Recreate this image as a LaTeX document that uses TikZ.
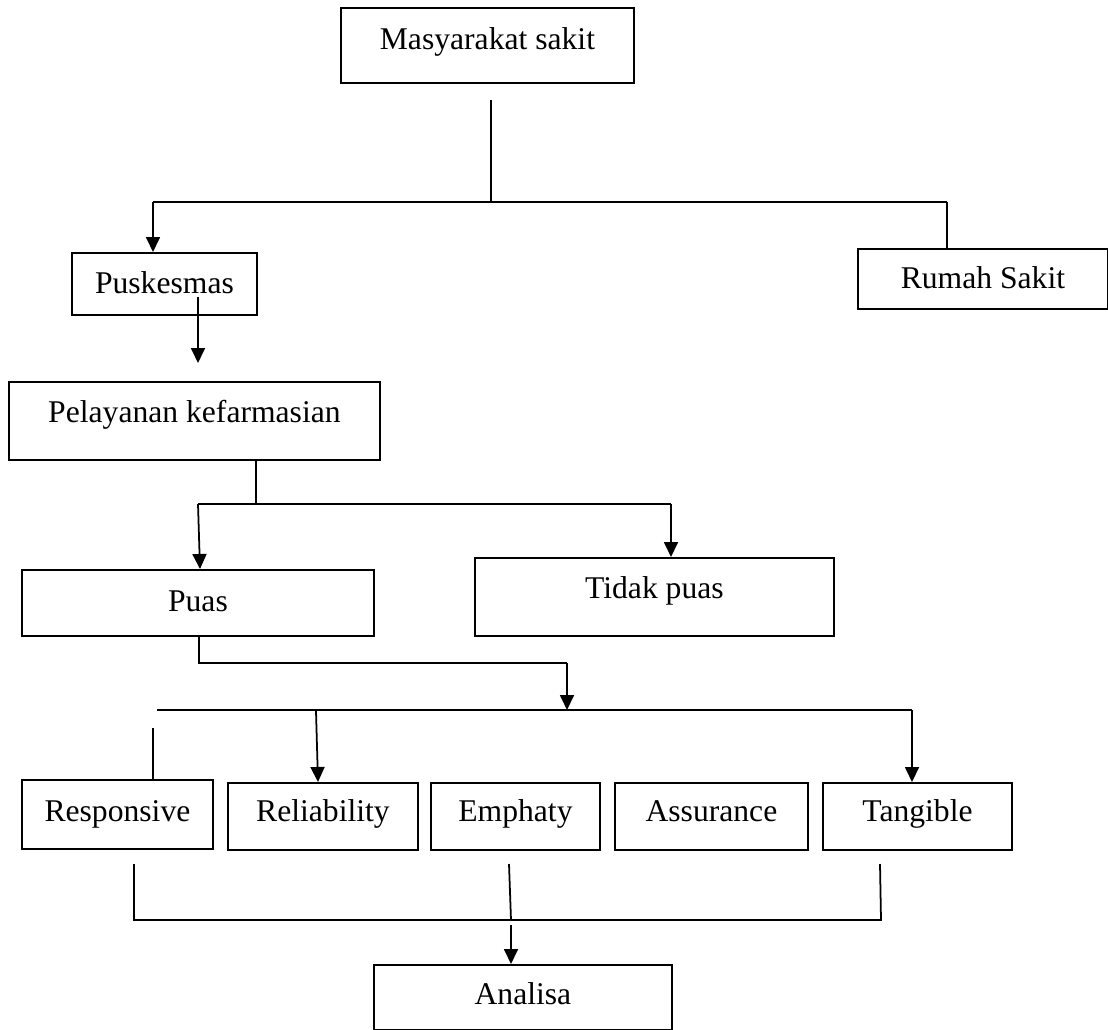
\documentclass[tikz,border=0pt]{standalone}
\usepackage{fontspec}
\setmainfont{Liberation Serif}
\usetikzlibrary{positioning, arrows.meta}
\tikzset{kotak/.style = {draw,line width=1.1pt,inner sep=0pt,anchor=north west,font=\fontsize{18}{22}\selectfont}}
\tikzset{garis/.style = {line width=1pt}}
\tikzset{panah/.style = {line width=1pt,-{Triangle[length=0.3cm,width=0.28cm]}}}

\begin{document}
\begin{tikzpicture}[x=0.02cm,y=-0.02cm]
    \useasboundingbox (0,0) rectangle (1108,1030);

    % kotak
    \node [kotak, minimum width=5.86cm, text height=0.83cm, text depth=0.67cm] (MS) at (340,7)   {Masyarakat sakit};
    \node [kotak, minimum width=3.70cm, text height=0.81cm, text depth=0.43cm] (PK) at (71,252)  {Puskesmas};
    \node [kotak, minimum width=5.00cm, text height=0.80cm, text depth=0.40cm] (RS) at (857,248) {Rumah Sakit};
    \node [kotak, minimum width=7.42cm, text height=0.81cm, text depth=0.75cm] (PL) at (8,381)   {Pelayanan kefarmasian};
    \node [kotak, minimum width=7.04cm, text height=0.84cm, text depth=0.48cm] (PU) at (21,569)  {Puas};
    \node [kotak, minimum width=7.18cm, text height=0.82cm, text depth=0.74cm] (TP) at (474,557) {Tidak puas};
    \node [kotak, minimum width=3.82cm, text height=0.84cm, text depth=0.54cm] (RP) at (21,779)  {Responsive};
    \node [kotak, minimum width=3.80cm, text height=0.78cm, text depth=0.56cm] (RL) at (227,782) {Reliability};
    \node [kotak, minimum width=3.38cm, text height=0.78cm, text depth=0.56cm] (EM) at (430,782) {Emphaty};
    \node [kotak, minimum width=3.86cm, text height=0.78cm, text depth=0.56cm] (AS) at (614,782) {Assurance};
    \node [kotak, minimum width=3.78cm, text height=0.78cm, text depth=0.56cm] (TG) at (822,782) {Tangible};
    \node [kotak, minimum width=5.96cm, text height=0.80cm, text depth=0.50cm] (AN) at (373,964) {Analisa};

    % titik sambung
    \coordinate (A1) at (491,100);
    \coordinate (A2) at (491,202);
    \coordinate (A3) at (153,202);
    \coordinate (A4) at (947,202);
    \coordinate (B1) at (198,297);
    \coordinate (B2) at (198,363);
    \coordinate (C1) at (256,504);
    \coordinate (C2) at (198,504);
    \coordinate (C3) at (671,504);
    \coordinate (D1) at (199,663);
    \coordinate (D2) at (567,663);
    \coordinate (D3) at (567,710);
    \coordinate (E1) at (157,710);
    \coordinate (E2) at (912,710);
    \coordinate (E3) at (153,728);
    \coordinate (E4) at (316,711);
    \coordinate (F1) at (134,864);
    \coordinate (F2) at (134,920);
    \coordinate (F3) at (509,864);
    \coordinate (F4) at (511,920);
    \coordinate (F5) at (880,864);
    \coordinate (F6) at (881,920);
    \coordinate (F7) at (511,925);

    % garis
    \draw [garis] (A1) -- (A2);
    \draw [garis] (A3) -- (A4);
    \draw [panah] (A3) -- (PK.north -| A3);
    \draw [garis] (A4) -- (RS.north -| A4);
    \draw [panah] (B1) -- (B2);
    \draw [garis] (PL.south -| C1) -- (C1);
    \draw [garis] (C2) -- (C3);
    \draw [panah] (C2) -- ([xshift=0.04cm]PU.north -| C2);
    \draw [panah] (C3) -- (TP.north -| C3);
    \draw [garis] (PU.south -| D1) -- (D1) -- (D2);
    \draw [panah] (D2) -- (D3);
    \draw [garis] (E1) -- (E2);
    \draw [garis] (E3) -- (RP.north -| E3);
    \draw [panah] (E4) -- ([xshift=0.04cm]RL.north -| E4);
    \draw [panah] (E2) -- (TG.north -| E2);
    \draw [garis] (F1) -- (F2) -- (F6) -- (F5);
    \draw [garis] (F3) -- (F4);
    \draw [panah] (F7) -- (AN.north -| F7);
\end{tikzpicture}
\end{document}
